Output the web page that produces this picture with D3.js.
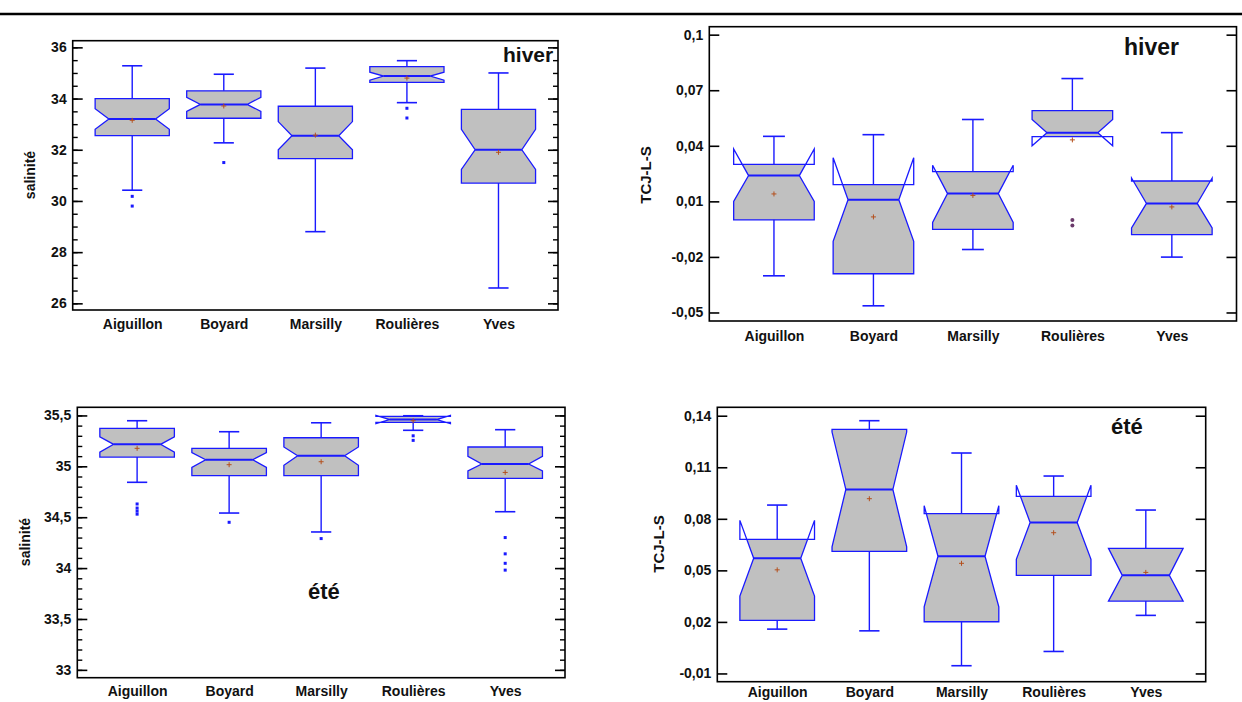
<!DOCTYPE html>
<html>
<head>
<meta charset="utf-8">
<script src="https://cdn.jsdelivr.net/npm/d3@7"></script>
<style>
  body { margin: 0; background: #fff; }
  svg text { font-family: "Liberation Sans", Arial, sans-serif; font-weight: bold; fill: #111; }
</style>
</head>
<body>
<svg id="chart" width="1242" height="702"></svg>
<script>
// sites (categories)
const sites = ["Aiguillon", "Boyard", "Marsilly", "Roulières", "Yves"];

// each row: whisker low, Q1, notch low, median, notch high, Q3, whisker high, mean
const salHiver = [
    [30.42, 32.55, 32.8, 33.2, 33.6, 34.0, 35.28, 33.15],
    [32.27, 33.23, 33.5, 33.77, 34.05, 34.3, 34.95, 33.71],
    [28.8, 31.65, 32.0, 32.55, 33.1, 33.7, 35.19, 32.57],
    [33.84, 34.63, 34.72, 34.88, 35.03, 35.25, 35.48, 34.8],
    [26.6, 30.7, 31.23, 32.0, 32.8, 33.58, 35.0, 31.9]
];
const salHiverOut = [[30.18, 29.8], [31.5], [], [33.62, 33.24], []];
const salHiverTicks = [26, 28, 30, 32, 34, 36];

const tcjHiver = [
    [-0.0302, 0.0, 0.01, 0.0239, 0.0383, 0.030, 0.0451, 0.014],
    [-0.0464, -0.0291, -0.0116, 0.0109, 0.0335, 0.019, 0.046, 0.0016],
    [-0.016, -0.0051, -0.0014, 0.0142, 0.0295, 0.0261, 0.0542, 0.0132],
    [0.045, 0.045, 0.040, 0.0471, 0.0542, 0.059, 0.0763, 0.0432],
    [-0.0201, -0.008, -0.0044, 0.0089, 0.0226, 0.021, 0.0471, 0.007]
];
const tcjHiverOut = [[], [], [], [-0.0001, -0.003], []];
const tcjHiverTicks = [-0.05, -0.02, 0.01, 0.04, 0.07, 0.1];

const salEte = [
    [34.843, 35.091, 35.14, 35.216, 35.29, 35.373, 35.448, 35.177],
    [34.541, 34.908, 34.99, 35.065, 35.134, 35.177, 35.34, 35.016],
    [34.355, 34.908, 35.01, 35.104, 35.19, 35.281, 35.428, 35.045],
    [35.354, 35.432, 35.42, 35.46, 35.5, 35.491, 35.497, 35.448],
    [34.554, 34.882, 34.954, 35.023, 35.098, 35.19, 35.36, 34.94]
];
const salEteOut = [[34.63, 34.59, 34.56, 34.53], [34.45], [34.29], [35.3, 35.255], [34.3, 34.14, 34.047, 33.98]];
const salEteTicks = [33, 33.5, 34, 34.5, 35, 35.5];

const tcjEte = [
    [0.0158, 0.0209, 0.035, 0.057, 0.0791, 0.068, 0.088, 0.0503],
    [0.0148, 0.0611, 0.0637, 0.0971, 0.1305, 0.132, 0.1371, 0.0917],
    [-0.0055, 0.0201, 0.0288, 0.0582, 0.0876, 0.083, 0.1183, 0.0541],
    [0.0028, 0.0471, 0.0564, 0.0779, 0.0995, 0.0931, 0.1049, 0.0719],
    [0.0238, 0.0321, 0.0321, 0.0471, 0.0628, 0.0628, 0.0851, 0.0488]
];
const tcjEteOut = [[], [], [], [], []];
const tcjEteTicks = [-0.01, 0.02, 0.05, 0.08, 0.11, 0.14];

const blue = "#1a1aff";
const svg = d3.select("#chart");

// black rule across the top
svg.append("line")
    .attr("x1", 0).attr("x2", 1242)
    .attr("y1", 14).attr("y2", 14)
    .attr("stroke", "#000").attr("stroke-width", 2.5);

const fmt = (v) => String(+v.toFixed(3)).replace(".", ",");

function drawPanel(p) {
    const x = d3.scalePoint().domain(sites).range([p.left, p.right]).padding(0.65);
    const y = d3.scaleLinear().domain(p.domain).range([p.bottom, p.top]);
    const g = svg.append("g");

    const step = x.step();
    const hw = step * 0.405;   // half box width
    const nw = hw * 0.63;      // half width at the notch
    const cw = step * 0.11;    // half cap width

    const rows = p.stats.map((s, i) => ({
        site: sites[i], lo: s[0], q1: s[1], nl: s[2], med: s[3],
        nh: s[4], q3: s[5], hi: s[6], mean: s[7], out: p.outliers[i]
    }));

    function half(d, v) {
        if (v >= d.med && v <= d.nh) return nw + (hw - nw) * (v - d.med) / (d.nh - d.med);
        if (v <= d.med && v >= d.nl) return nw + (hw - nw) * (d.med - v) / (d.med - d.nl);
        return hw;
    }

    // grey fill, clipped to the quartiles
    g.selectAll(".fill").data(rows).enter().append("path")
        .attr("fill", "#c0c0c0")
        .attr("d", (d) => {
            const cx = x(d.site);
            const vals = [d.q1, Math.max(d.nl, d.q1), d.med, Math.min(d.nh, d.q3), d.q3];
            const pts = vals.map((v) => [cx - half(d, v), y(v)])
                .concat(vals.slice().reverse().map((v) => [cx + half(d, v), y(v)]));
            return d3.line()(pts) + "Z";
        });

    // whiskers and caps
    rows.forEach((d) => {
        const cx = x(d.site);
        [[d.q3, d.hi], [d.q1, d.lo]].forEach(([a, b]) => {
            if (a === b) return;
            g.append("line").attr("x1", cx).attr("x2", cx).attr("y1", y(a)).attr("y2", y(b))
                .attr("stroke", blue).attr("stroke-width", 1.4);
            g.append("line").attr("x1", cx - cw).attr("x2", cx + cw).attr("y1", y(b)).attr("y2", y(b))
                .attr("stroke", blue).attr("stroke-width", 1.6);
        });
    });

    // notched outline (ears where the notch passes the quartiles)
    g.selectAll(".box").data(rows).enter().append("path")
        .attr("fill", "none").attr("stroke", blue).attr("stroke-width", 1.3)
        .attr("stroke-linejoin", "miter")
        .attr("d", (d) => {
            const cx = x(d.site), L = cx - hw, R = cx + hw;
            return d3.line()([
                [L, y(d.q1)], [L, y(d.nl)], [cx - nw, y(d.med)], [L, y(d.nh)], [L, y(d.q3)],
                [R, y(d.q3)], [R, y(d.nh)], [cx + nw, y(d.med)], [R, y(d.nl)], [R, y(d.q1)]
            ]) + "Z";
        });

    // median
    g.selectAll(".med").data(rows).enter().append("line")
        .attr("x1", (d) => x(d.site) - nw).attr("x2", (d) => x(d.site) + nw)
        .attr("y1", (d) => y(d.med)).attr("y2", (d) => y(d.med))
        .attr("stroke", blue).attr("stroke-width", 2);

    // mean marker
    rows.forEach((d) => {
        const cx = x(d.site), cy = y(d.mean);
        g.append("path").attr("d", `M${cx - 2.5},${cy}H${cx + 2.5}M${cx},${cy - 2.5}V${cy + 2.5}`)
            .attr("stroke", "#b4501e").attr("stroke-width", 1);
    });

    // outliers
    rows.forEach((d) => {
        d.out.forEach((v) => {
            if (p.roundOut) {
                g.append("circle").attr("cx", x(d.site)).attr("cy", y(v)).attr("r", 2)
                    .attr("fill", "#6b3a6b");
            } else {
                g.append("rect").attr("x", x(d.site) - 1.5).attr("y", y(v) - 1.5)
                    .attr("width", 3).attr("height", 3).attr("fill", blue);
            }
        });
    });

    // frame
    g.append("rect")
        .attr("x", p.left).attr("y", p.top)
        .attr("width", p.right - p.left).attr("height", p.bottom - p.top)
        .attr("fill", "none").attr("stroke", "#000").attr("stroke-width", 1.6);

    // y axis, ticks pointing inside
    const axL = g.append("g").attr("transform", `translate(${p.left},0)`)
        .call(d3.axisLeft(y).tickValues(p.ticks).tickSize(-10).tickPadding(6).tickFormat(fmt));
    const axR = g.append("g").attr("transform", `translate(${p.right},0)`)
        .call(d3.axisRight(y).tickValues(p.ticks).tickSize(-10).tickFormat(""));
    [axL, axR].forEach((a) => {
        a.select(".domain").remove();
        a.selectAll("line").attr("stroke", "#000").attr("stroke-width", 1.6);
    });
    axL.selectAll("text").attr("font-size", 14).style("font-family", "Liberation Sans, Arial")
        .style("font-weight", "bold").attr("fill", "#111");

    if (p.minor) {
        const minors = y.ticks(p.minor);
        [[d3.axisLeft, p.left], [d3.axisRight, p.right]].forEach(([ax, px]) => {
            const m = g.append("g").attr("transform", `translate(${px},0)`)
                .call(ax(y).tickValues(minors).tickSize(-5).tickFormat(""));
            m.select(".domain").remove();
            m.selectAll("line").attr("stroke", "#000").attr("stroke-width", 1.4);
        });
    }

    // x labels
    const axB = g.append("g").attr("transform", `translate(0,${p.bottom})`)
        .call(d3.axisBottom(x).tickSize(0).tickPadding(p.xPad));
    axB.select(".domain").remove();
    axB.selectAll("text").attr("font-size", 14).style("font-family", "Liberation Sans, Arial")
        .style("font-weight", "bold").attr("fill", "#111");

    // y title
    g.append("text")
        .attr("transform", `translate(${p.titleX},${p.titleY}) rotate(-90)`)
        .attr("text-anchor", "middle").attr("dy", "0.35em")
        .attr("font-size", p.titleSize)
        .text(p.title);

    // season tag
    g.append("text")
        .attr("x", p.tagX).attr("y", p.tagY)
        .attr("font-size", p.tagSize)
        .text(p.tag);
}

drawPanel({
    stats: salHiver, outliers: salHiverOut, ticks: salHiverTicks, minor: 20,
    left: 72.7, right: 558, top: 40.7, bottom: 310, domain: [25.74, 36.26],
    xPad: 9.5, title: "salinité", titleX: 30, titleY: 175, titleSize: 14,
    tag: "hiver", tagX: 503, tagY: 62, tagSize: 21
});
drawPanel({
    stats: tcjHiver, outliers: tcjHiverOut, ticks: tcjHiverTicks, minor: null, roundOut: true,
    left: 709.3, right: 1236.5, top: 26.7, bottom: 321, domain: [-0.0546, 0.1043],
    xPad: 10.5, title: "TCJ-L-S", titleX: 646, titleY: 175, titleSize: 15,
    tag: "hiver", tagX: 1124, tagY: 55, tagSize: 23
});
drawPanel({
    stats: salEte, outliers: salEteOut, ticks: salEteTicks, minor: 25,
    left: 77.3, right: 565, top: 407.3, bottom: 677.7, domain: [32.923, 35.58],
    xPad: 8, title: "salinité", titleX: 25, titleY: 542, titleSize: 14,
    tag: "été", tagX: 308, tagY: 599, tagSize: 22
});
drawPanel({
    stats: tcjEte, outliers: tcjEteOut, ticks: tcjEteTicks, minor: null,
    left: 717.3, right: 1205.7, top: 407.3, bottom: 681.7, domain: [-0.0148, 0.1449],
    xPad: 5.5, title: "TCJ-L-S", titleX: 659, titleY: 544, titleSize: 15,
    tag: "été", tagX: 1111, tagY: 434, tagSize: 22
});
</script>
</body>
</html>
